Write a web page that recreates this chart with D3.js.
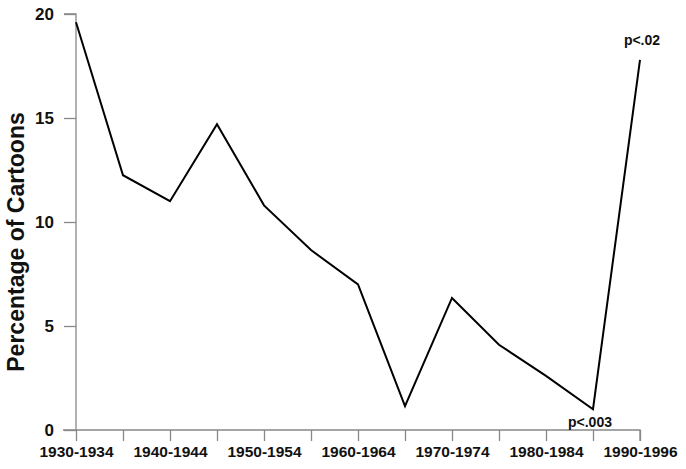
<!DOCTYPE html>
<html><head><meta charset="utf-8">
<script src="https://cdn.jsdelivr.net/npm/d3@7"></script>
<style>body{margin:0;background:#fff}svg{display:block}text{font-family:"Liberation Sans",Arial,sans-serif;font-weight:bold;fill:#111}</style>
</head><body><svg id="c" width="686" height="469"></svg>
<script>
const categories=["1930-1934","1935-1939","1940-1944","1945-1949","1950-1954","1955-1959","1960-1964","1965-1969","1970-1974","1975-1979","1980-1984","1985-1989","1990-1996"];
const values=[19.6,12.25,11.0,14.7,10.8,8.65,7.0,1.15,6.35,4.1,2.6,1.0,17.8];
const yTicks=[0,5,10,15,20];
const shownLabels=["1930-1934","1940-1944","1950-1954","1960-1964","1970-1974","1980-1984","1990-1996"];
const notes=[{cat:"1990-1996",text:"p<.02"},{cat:"1985-1989",text:"p<.003"}];

const svg=d3.select("#c");
const x=d3.scalePoint().domain(categories).range([76,640]);
const y=d3.scaleLinear().domain([0,20]).range([430,14]);

const gy=svg.append("g").attr("transform","translate(76,0)")
 .call(d3.axisLeft(y).tickValues(yTicks).tickSize(12).tickPadding(10));
gy.select(".domain").attr("stroke","#888").attr("stroke-width",1.3).attr("d","M-12,14H0V430");
gy.selectAll(".tick line").attr("stroke","#888").attr("stroke-width",1.3);
gy.selectAll(".tick text").style("font-size","17px").attr("fill","#111");

const gx=svg.append("g").attr("transform","translate(0,430)")
 .call(d3.axisBottom(x).tickSize(11).tickPadding(5).tickFormat(d=>shownLabels.includes(d)?d:""));
gx.select(".domain").attr("stroke","#888").attr("stroke-width",1.3).attr("d","M63,0H640V11");
gx.selectAll(".tick line").attr("stroke","#888").attr("stroke-width",1.3);
gx.selectAll(".tick text").style("font-size","15.5px").attr("fill","#111");

svg.append("path").datum(values)
 .attr("fill","none").attr("stroke","#000").attr("stroke-width",2)
 .attr("d",d3.line().x((d,i)=>x(categories[i])).y(d=>y(d)));

svg.append("text").attr("transform","translate(24,242) rotate(-90)")
 .attr("text-anchor","middle").style("font-size","23px").text("Percentage of Cartoons");

svg.selectAll(".note").data(notes).enter().append("text")
 .attr("x",d=>x(d.cat)+(d.cat==="1990-1996"?2:-3))
 .attr("y",(d,i)=>i===0?y(values[categories.indexOf(d.cat)])-15:y(values[categories.indexOf(d.cat)])+18)
 .attr("text-anchor","middle").style("font-size","14px").text(d=>d.text);
</script></body></html>
